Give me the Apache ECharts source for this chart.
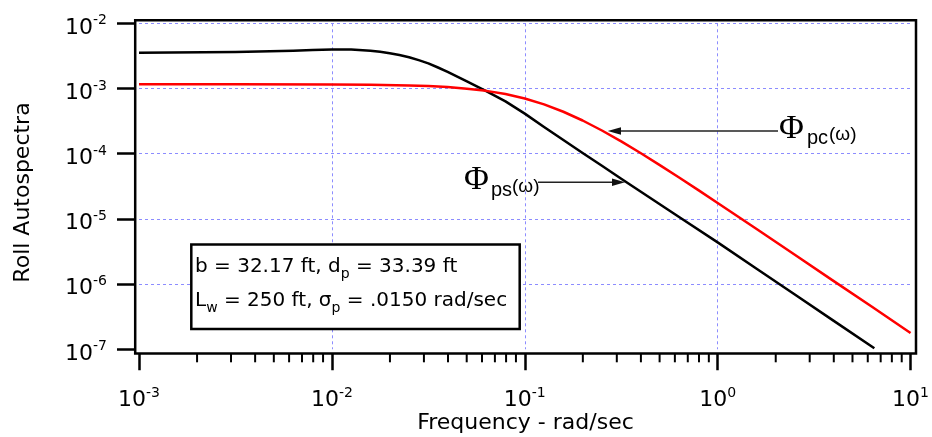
<!DOCTYPE html>
<html>
<head>
<meta charset="utf-8">
<script src="https://cdn.jsdelivr.net/npm/echarts@6/dist/echarts.min.js"></script>
<style>
html,body{margin:0;padding:0;background:#fff;}
#c{width:932px;height:437px;}
</style>
</head>
<body>
<div id="c"></div>
<script>
// ---- data (frequency in rad/sec, spectra values) ----
const freqPs = [0.001, 0.00316, 0.00631, 0.00794, 0.01, 0.01259, 0.01585, 0.01778, 0.01995, 0.02239,
  0.02512, 0.02818, 0.03162, 0.03548, 0.03981, 0.04467, 0.05012, 0.0631, 0.07943, 0.1,
  0.1259, 0.1585, 0.1995, 0.2512, 0.3162, 0.3981, 0.631, 1, 1.585, 2.512, 3.981, 6.49];
const phiPs = [3.54e-3, 3.64e-3, 3.78e-3, 3.88e-3, 3.98e-3, 3.96e-3, 3.80e-3, 3.66e-3, 3.47e-3, 3.26e-3,
  3.02e-3, 2.72e-3, 2.43e-3, 2.10e-3, 1.80e-3, 1.52e-3, 1.288e-3, 9.12e-4, 6.34e-4, 4.12e-4,
  2.57e-4, 1.62e-4, 1.023e-4, 6.53e-5, 4.12e-5, 2.63e-5, 1.072e-5, 4.37e-6, 1.738e-6, 6.92e-7, 2.75e-7, 1.035e-7];

const freqPc = [0.001, 0.00316, 0.01, 0.01585, 0.02512, 0.03162, 0.03981, 0.05012, 0.0631, 0.07943,
  0.1, 0.1259, 0.1585, 0.1995, 0.2512, 0.3162, 0.3981, 0.5012, 0.631, 0.7943,
  1, 1.585, 2.512, 3.981, 6.31, 10];
const phiPc = [1.159e-3, 1.158e-3, 1.151e-3, 1.140e-3, 1.112e-3, 1.089e-3, 1.050e-3, 9.95e-4, 9.20e-4, 8.22e-4,
  7.02e-4, 5.70e-4, 4.40e-4, 3.23e-4, 2.27e-4, 1.545e-4, 1.026e-4, 6.68e-5, 4.32e-5, 2.76e-5,
  1.754e-5, 7.05e-6, 2.82e-6, 1.122e-6, 4.48e-7, 1.78e-7];

const xRange = [0.001, 10];
const yRange = [1e-7, 1e-2];
const xMinorTicks = [];
[0.001, 0.01, 0.1, 1].forEach(function (dec) {
  [2, 3, 4, 5, 6, 7, 8, 9].forEach(function (d) { xMinorTicks.push(+(d * dec).toPrecision(3)); });
});

const xTitle = 'Frequency - rad/sec';
const yTitle = 'Roll Autospectra';
const boxLine1 = '{n|b = 32.17 ft, d}{s|p}{n| = 33.39 ft}';
const boxLine2 = '{n|L}{s|w}{n| = 250 ft, σ}{s|p}{n| = .0150 rad/sec}';

// ---- chart ----
const SANS = '"DejaVu Sans", sans-serif';
const LSANS = '"Liberation Sans", Arial, sans-serif';
const SERIF = '"Liberation Serif", "DejaVu Serif", serif';
const chart = echarts.init(document.getElementById('c'));

function powLabel(v) {
  const e = Math.round(Math.log10(v));
  return '{b|10}{s|' + e + '}';
}
const labelRich = {
  b: { fontFamily: SANS, fontSize: 22, lineHeight: 25, verticalAlign: 'bottom', color: '#000' },
  s: { fontFamily: SANS, fontSize: 14, lineHeight: 25, verticalAlign: 'top', color: '#000' }
};
const gridLine = { show: true, showMinLine: false, showMaxLine: false,
  lineStyle: { color: '#8c8cff', width: 1, type: [3, 3] } };

const boxRich = {
  n: { fontFamily: SANS, fontSize: 20, lineHeight: 25, verticalAlign: 'top', fill: '#000' },
  s: { fontFamily: SANS, fontSize: 14, lineHeight: 25, verticalAlign: 'bottom', fill: '#000' }
};

function txt(x, y, text, font) {
  return { type: 'text', x: x, y: y, z: 70, silent: true,
    style: { text: text, font: font, fill: '#000', align: 'left', verticalAlign: 'middle' } };
}

const option = {
  animation: false,
  backgroundColor: '#fff',
  grid: { left: 139, top: 23.3, width: 773, height: 326, containLabel: false },
  xAxis: {
    type: 'log', logBase: 10, min: xRange[0], max: xRange[1], offset: 4,
    axisLine: { show: false },
    axisTick: { show: true, length: 17, lineStyle: { color: '#000', width: 2.5 } },
    minorTick: { show: false },
    axisLabel: { margin: 33, formatter: powLabel, rich: labelRich, showMinLabel: true, showMaxLabel: true },
    splitLine: gridLine
  },
  yAxis: {
    type: 'log', logBase: 10, min: yRange[0], max: yRange[1], offset: 4,
    axisLine: { show: false },
    axisTick: { show: true, length: 18, lineStyle: { color: '#000', width: 2.5 } },
    minorTick: { show: false },
    axisLabel: { margin: 28, formatter: powLabel, rich: labelRich, padding: [6, 0, 0, 0], showMinLabel: true, showMaxLabel: true },
    splitLine: gridLine
  },
  series: [
    {
      type: 'custom', name: 'minorTicks', silent: true, clip: false, z: 5,
      data: xMinorTicks.map(function (v) { return [v, yRange[0]]; }),
      renderItem: function (params, api) {
        const p = api.coord([api.value(0), api.value(1)]);
        return { type: 'line', shape: { x1: p[0], y1: p[1] + 4, x2: p[0], y2: p[1] + 13 },
          style: { stroke: '#000', lineWidth: 2 } };
      }
    },
    {
      type: 'line', name: 'ps', symbol: 'none', smooth: false,
      data: freqPs.map(function (f, i) { return [f, phiPs[i]]; }),
      lineStyle: { color: '#000', width: 2.5, join: 'round' }, z: 3
    },
    {
      type: 'line', name: 'pc', symbol: 'none', smooth: false,
      data: freqPc.map(function (f, i) { return [f, phiPc[i]]; }),
      lineStyle: { color: '#ff0000', width: 2.5, join: 'round' }, z: 4
    }
  ],
  graphic: [
    { type: 'rect', z: 50, silent: true, shape: { x: 135.2, y: 20.2, width: 780.8, height: 333.3 },
      style: { fill: 'none', stroke: '#000', lineWidth: 2.5 } },
    { type: 'rect', z: 60, silent: true, shape: { x: 191.3, y: 244.5, width: 328.4, height: 84.5 },
      style: { fill: '#fff', stroke: '#000', lineWidth: 2.5 } },
    { type: 'text', z: 61, silent: true, x: 195, y: 256.4,
      style: { text: boxLine1, rich: boxRich, align: 'left', verticalAlign: 'top', fill: '#000', font: '20px ' + SANS } },
    { type: 'text', z: 61, silent: true, x: 195, y: 290.8,
      style: { text: boxLine2, rich: boxRich, align: 'left', verticalAlign: 'top', fill: '#000', font: '20px ' + SANS } },
    // axis titles
    { type: 'text', z: 61, silent: true, x: 23, y: 192.5, rotation: Math.PI / 2,
      style: { text: yTitle, font: '22px ' + SANS, fill: '#000', align: 'center', verticalAlign: 'middle' } },
    { type: 'text', z: 61, silent: true, x: 525.5, y: 423.5,
      style: { text: xTitle, font: '22px ' + SANS, fill: '#000', align: 'center', verticalAlign: 'middle' } },
    // Phi_pc annotation
    txt(779, 129, 'Φ', '34px ' + SERIF),
    txt(807, 138.5, 'pc', '20px ' + LSANS),
    txt(829, 134.7, '(ω)', '19px ' + LSANS),
    { type: 'line', z: 70, silent: true, shape: { x1: 620, y1: 131, x2: 778, y2: 131 },
      style: { stroke: '#222', lineWidth: 1.6 } },
    { type: 'polygon', z: 70, silent: true, shape: { points: [[607.7, 131], [621, 127.2], [621, 134.8]] },
      style: { fill: '#111' } },
    // Phi_ps annotation
    txt(464, 180, 'Φ', '34px ' + SERIF),
    txt(491, 190, 'ps', '20px ' + LSANS),
    txt(512, 186.4, '(ω)', '19px ' + LSANS),
    { type: 'line', z: 70, silent: true, shape: { x1: 538, y1: 182.3, x2: 613, y2: 182.3 },
      style: { stroke: '#222', lineWidth: 1.6 } },
    { type: 'polygon', z: 70, silent: true, shape: { points: [[625, 182.3], [612, 178.5], [612, 186.1]] },
      style: { fill: '#111' } }
  ]
};
chart.setOption(option);
</script>
</body>
</html>
